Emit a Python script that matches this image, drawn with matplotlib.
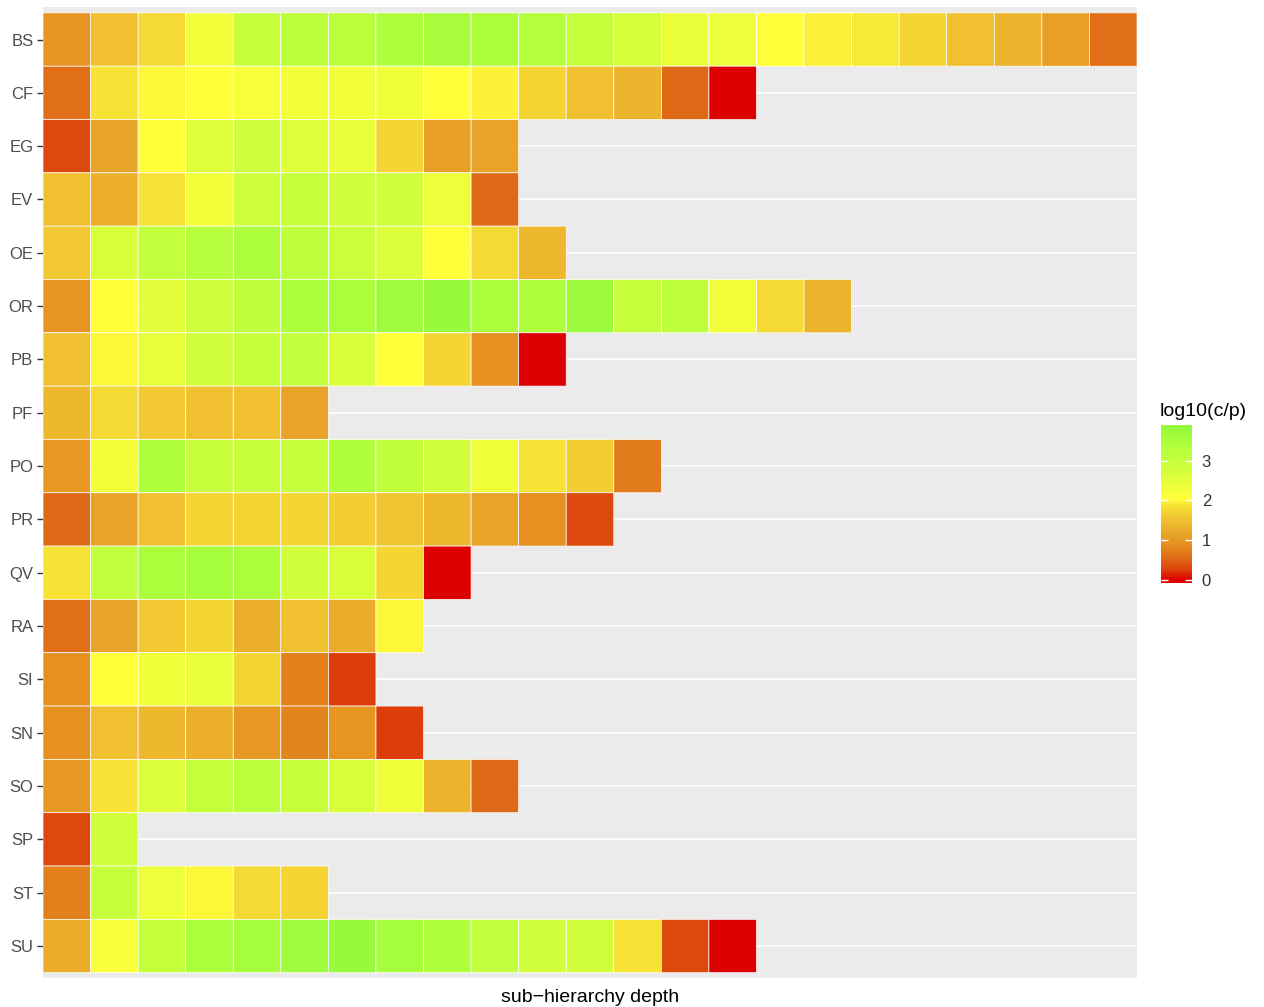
import numpy as np
import matplotlib
matplotlib.use("Agg")
import matplotlib.pyplot as plt
from matplotlib.colors import LinearSegmentedColormap

plt.rcParams['font.family'] = ['Liberation Sans', 'DejaVu Sans']

# log10(c/p) per hierarchy, one value per sub-hierarchy depth
groups = ["BS", "CF", "EG", "EV", "OE", "OR", "PB", "PF", "PO",
          "PR", "QV", "RA", "SI", "SN", "SO", "SP", "ST", "SU"]

bs = [0.95, 1.5, 1.8, 2.25, 2.95, 3.2, 3.2, 3.4, 3.55, 3.45, 3.3, 3.0, 2.7,
      2.4, 2.35, 2.05, 1.95, 1.9, 1.75, 1.5, 1.35, 1.1, 0.6]
cf = [0.6, 1.85, 2.0, 2.05, 2.2, 2.25, 2.25, 2.3, 2.05, 1.97, 1.75, 1.5, 1.35, 0.55, 0.0]
eg = [0.3, 1.15, 2.05, 2.55, 2.85, 2.55, 2.4, 1.75, 1.1, 1.15]
ev = [1.5, 1.3, 1.85, 2.25, 2.85, 2.95, 2.75, 2.8, 2.35, 0.55]
oe = [1.6, 2.65, 3.05, 3.25, 3.45, 3.15, 2.9, 2.6, 2.05, 1.8, 1.4]
orr = [0.95, 2.05, 2.5, 2.85, 3.1, 3.45, 3.5, 3.7, 3.85, 3.45, 3.4, 3.75,
       2.95, 3.15, 2.25, 1.8, 1.35]
pb = [1.5, 2.0, 2.45, 2.75, 2.95, 3.05, 2.65, 2.05, 1.75, 0.9, 0.0]
pf = [1.4, 1.8, 1.6, 1.5, 1.5, 1.15]
po = [1.0, 2.25, 3.4, 2.95, 2.95, 3.0, 3.4, 3.1, 2.75, 2.3, 1.85, 1.65, 0.7]
pr = [0.55, 1.15, 1.5, 1.75, 1.75, 1.75, 1.65, 1.55, 1.4, 1.15, 0.9, 0.3]
qv = [1.85, 3.05, 3.45, 3.6, 3.45, 2.75, 2.65, 1.75, 0.0]
ra = [0.6, 1.15, 1.6, 1.75, 1.3, 1.5, 1.25, 2.0]
si = [0.9, 2.05, 2.3, 2.4, 1.75, 0.75, 0.25]
sn = [0.9, 1.5, 1.4, 1.3, 1.0, 0.8, 0.95, 0.25]
so = [1.0, 1.85, 2.6, 3.0, 3.2, 2.95, 2.65, 2.3, 1.35, 0.55]
sp = [0.3, 2.75]
st = [0.75, 2.95, 2.35, 2.0, 1.8, 1.75]
su = [1.25, 2.15, 3.0, 3.5, 3.6, 3.7, 3.85, 3.6, 3.4, 3.05, 2.75, 2.75,
      1.85, 0.3, 0.0]

rows = [bs, cf, eg, ev, oe, orr, pb, pf, po, pr, qv, ra, si, sn, so, sp, st, su]
ncol = max(len(r) for r in rows)
grid = np.full((len(rows), ncol), np.nan)
for i, r in enumerate(rows):
    grid[i, :len(r)] = r
grid = np.ma.masked_invalid(grid)

vmin, vmax = -0.08, 3.9
stops = [(vmin, "#DD0000"), (0.0, "#DD0000"), (0.3, "#DD4A0C"), (0.6, "#E07018"),
         (0.9, "#E59020"), (1.15, "#E8A428"), (1.5, "#F0C030"), (1.8, "#F5DA35"),
         (2.05, "#FFFF3A"), (2.4, "#EAFF3A"), (2.75, "#D2FF3C"), (3.0, "#C5FF3C"),
         (3.4, "#B0FF3C"), (vmax, "#94FA3C")]
cmap = LinearSegmentedColormap.from_list(
    "rdylgn", [((v - vmin) / (vmax - vmin), c) for v, c in stops])

fig = plt.figure(figsize=(12.64, 10.07), dpi=100)
ax = fig.add_axes([43 / 1264, 1 - 978 / 1007, (1137 - 43) / 1264, (978 - 7) / 1007])
ax.set_facecolor("#EBEBEB")

x = np.arange(ncol + 1) - 0.5
y = np.arange(len(rows) + 1) - 0.5
# pcolor leaves masked (missing) cells undrawn, edges included
mesh = ax.pcolor(x, y, grid, cmap=cmap, vmin=vmin, vmax=vmax,
                 edgecolors="white", linewidth=0.5)

ax.set_xlim(-0.5, ncol - 0.5)
ax.set_ylim(len(rows) - 0.5 + 0.1, -0.5 - 0.11)
ax.set_yticks(range(len(rows)))
ax.set_yticklabels(groups, fontsize=12, color="#4D4D4D")
ax.set_xticks([])
ax.tick_params(axis="y", length=4, width=1, color="#333333", pad=3)
ax.grid(axis="y", color="white", linewidth=1.2)
ax.set_axisbelow(True)
for s in ax.spines.values():
    s.set_visible(False)
ax.set_xlabel("sub\u2212hierarchy depth", fontsize=14, color="black", labelpad=8)

# colour bar legend
cax = fig.add_axes([1161 / 1264, 1 - 583 / 1007, 31 / 1264, 158 / 1007])
cb = fig.colorbar(mesh, cax=cax)
cb.outline.set_visible(False)
cb.set_ticks([0, 1, 2, 3])
cax.tick_params(which="both", left=True, right=True, labelleft=False,
                labelright=True, direction="in", length=5, width=1,
                color="white", labelcolor="#333333", labelsize=12, pad=7)
cax.minorticks_off()
fig.text(1160 / 1264, 1 - 411 / 1007, "log10(c/p)", fontsize=14,
         ha="left", va="center", color="black")

fig.savefig("out.png", dpi=100)
